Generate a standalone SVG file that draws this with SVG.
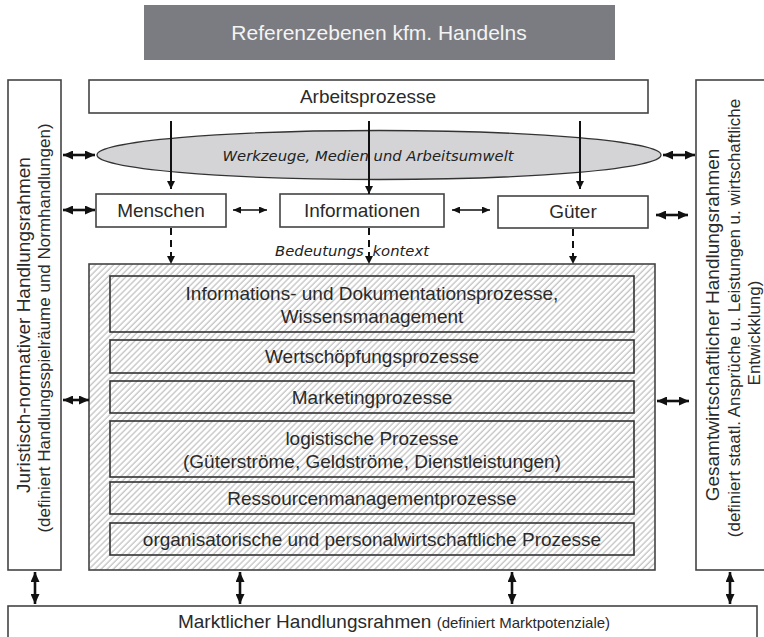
<svg xmlns="http://www.w3.org/2000/svg" width="764" height="637" viewBox="0 0 764 637">
  <style>
    .box { fill: #ffffff; stroke: #444444; stroke-width: 1.6; }
    .inner { fill: url(#hatch); stroke: #333333; stroke-width: 1.6; }
    .lbl { font-family: "Liberation Sans", Arial, sans-serif; font-size: 19px; fill: #2a2a2a; text-anchor: middle; }
    .sub { font-family: "Liberation Sans", Arial, sans-serif; font-size: 17px; fill: #2a2a2a; text-anchor: middle; }
    .it { font-family: "DejaVu Sans", "Open Sans", sans-serif; font-style: italic; font-size: 14.8px; fill: #222222; text-anchor: middle; }
    .thick { stroke: #111111; stroke-width: 2.6; fill: none; marker-start: url(#hd); marker-end: url(#hd); }
    .thin { stroke: #111111; stroke-width: 1.5; fill: none; marker-start: url(#hs); marker-end: url(#hs); }
    .down { stroke: #111111; stroke-width: 2; fill: none; marker-end: url(#hv); }
    .dash { stroke: #111111; stroke-width: 2; fill: none; stroke-dasharray: 7 5; marker-end: url(#hv); }
  </style>
  <defs>
    <pattern id="hatch" width="4.3" height="10" patternUnits="userSpaceOnUse" patternTransform="rotate(45)">
      <rect width="4.3" height="10" fill="#ffffff"/>
      <line x1="1" y1="0" x2="1" y2="10" stroke="#b8b8b8" stroke-width="1.1"/>
    </pattern>
    <marker id="hd" viewBox="0 0 10 9" refX="10" refY="4.5" markerWidth="10" markerHeight="9" markerUnits="userSpaceOnUse" orient="auto-start-reverse">
      <path d="M0,0 L10,4.5 L0,9 z" fill="#111111"/>
    </marker>
    <marker id="hs" viewBox="0 0 8 7" refX="8" refY="3.5" markerWidth="8" markerHeight="7" markerUnits="userSpaceOnUse" orient="auto-start-reverse">
      <path d="M0,0 L8,3.5 L0,7 z" fill="#111111"/>
    </marker>
    <marker id="hv" viewBox="0 0 8 8" refX="8" refY="4" markerWidth="8" markerHeight="8" markerUnits="userSpaceOnUse" orient="auto">
      <path d="M0,0 L8,4 L0,8 z" fill="#111111"/>
    </marker>
  </defs>

  <!-- heading -->
  <g id="title">
    <rect x="144" y="5" width="471" height="55" fill="#7b7c81"/>
    <text x="379" y="40" font-family="Liberation Sans, Arial, sans-serif" font-size="21" fill="#f4f4f4" text-anchor="middle">Referenzebenen kfm. Handelns</text>
  </g>

  <!-- left frame -->
  <g id="juristisch">
    <rect class="box" x="8" y="80" width="53" height="490"/>
    <text class="lbl" transform="translate(30,325) rotate(-90)">Juristisch-normativer Handlungsrahmen</text>
    <text class="sub" transform="translate(50,328) rotate(-90)">(definiert Handlungsspielräume und Normhandlungen)</text>
  </g>

  <!-- right frame -->
  <g id="gesamtwirtschaftlich">
    <rect class="box" x="696" y="80" width="80" height="490"/>
    <text class="lbl" transform="translate(719,325) rotate(-90)">Gesamtwirtschaftlicher Handlungsrahmen</text>
    <text class="sub" transform="translate(740,318) rotate(-90)">(definiert staatl. Ansprüche u. Leistungen u. wirtschaftliche</text>
    <text class="sub" transform="translate(760,333) rotate(-90)">Entwickklung)</text>
  </g>

  <!-- bottom frame -->
  <g id="marktlich">
    <rect class="box" x="8" y="606" width="749" height="40"/>
    <text x="394" y="628" font-family="Liberation Sans, Arial, sans-serif" fill="#2a2a2a" text-anchor="middle"><tspan font-size="19">Marktlicher Handlungsrahmen </tspan><tspan font-size="15">(definiert Marktpotenziale)</tspan></text>
  </g>

  <g id="arbeitsprozesse">
    <rect class="box" x="89" y="80" width="559" height="33"/>
    <text class="lbl" x="368" y="103">Arbeitsprozesse</text>
  </g>

  <g id="werkzeuge">
    <ellipse cx="379" cy="155" rx="282" ry="24.5" fill="#d4d4d6" stroke="#333333" stroke-width="1.3"/>
    <text class="it" x="368" y="161">Werkzeuge, Medien und Arbeitsumwelt</text>
  </g>

  <g id="menschen">
    <rect class="box" x="96" y="194" width="130" height="33"/>
    <text class="lbl" x="161" y="217">Menschen</text>
  </g>

  <g id="informationen">
    <rect class="box" x="280" y="194" width="164" height="33"/>
    <text class="lbl" x="362" y="217">Informationen</text>
  </g>

  <g id="gueter">
    <rect class="box" x="498" y="196" width="150" height="32"/>
    <text class="lbl" x="573" y="218">Güter</text>
  </g>

  <text id="bedeutungskontext" class="it" x="352" y="256" word-spacing="4">Bedeutungs kontext</text>

  <!-- process stack -->
  <g id="prozesse">
    <rect x="89" y="264" width="566" height="306" fill="url(#hatch)" stroke="#444444" stroke-width="1.6"/>
    <g id="p-information">
      <rect class="inner" x="110" y="276" width="524" height="56"/>
      <text class="lbl" x="372" y="300">Informations- und Dokumentationsprozesse,</text>
      <text class="lbl" x="372" y="323">Wissensmanagement</text>
    </g>
    <g id="p-wertschoepfung">
      <rect class="inner" x="110" y="340" width="524" height="33"/>
      <text class="lbl" x="372" y="363">Wertschöpfungsprozesse</text>
    </g>
    <g id="p-marketing">
      <rect class="inner" x="110" y="381" width="524" height="32"/>
      <text class="lbl" x="372" y="404">Marketingprozesse</text>
    </g>
    <g id="p-logistik">
      <rect class="inner" x="110" y="421" width="524" height="56"/>
      <text class="lbl" x="372" y="445">logistische Prozesse</text>
      <text class="lbl" x="372" y="468">(Güterströme, Geldströme, Dienstleistungen)</text>
    </g>
    <g id="p-ressourcen">
      <rect class="inner" x="110" y="482" width="524" height="32"/>
      <text class="lbl" x="372" y="505">Ressourcenmanagementprozesse</text>
    </g>
    <g id="p-organisation">
      <rect class="inner" x="110" y="523" width="524" height="32"/>
      <text class="lbl" x="372" y="546">organisatorische und personalwirtschaftliche Prozesse</text>
    </g>
  </g>

  <!-- connectors -->
  <g id="connectors">
    <line class="down" x1="171" y1="121" x2="171" y2="189"/>
    <line class="down" x1="369" y1="121" x2="369" y2="194"/>
    <line class="down" x1="580" y1="121" x2="580" y2="189"/>

    <line class="dash" x1="171" y1="228" x2="171" y2="264"/>
    <line class="dash" x1="369" y1="228" x2="369" y2="264"/>
    <line class="dash" x1="573" y1="229" x2="573" y2="264"/>

    <line class="thick" x1="63" y1="155" x2="95" y2="155"/>
    <line class="thick" x1="63" y1="210" x2="95" y2="210"/>
    <line class="thin" x1="233" y1="210" x2="267" y2="210"/>
    <line class="thin" x1="452" y1="210" x2="490" y2="210"/>
    <line class="thick" x1="663" y1="155" x2="695" y2="155"/>
    <line class="thick" x1="656" y1="215" x2="688" y2="215"/>
    <line class="thick" x1="63" y1="400" x2="89" y2="400"/>
    <line class="thick" x1="657" y1="401" x2="689" y2="401"/>

    <line class="thick" x1="35" y1="572" x2="35" y2="604"/>
    <line class="thick" x1="240" y1="572" x2="240" y2="604"/>
    <line class="thick" x1="512" y1="572" x2="512" y2="604"/>
    <line class="thick" x1="730" y1="572" x2="730" y2="604"/>
  </g>
</svg>
